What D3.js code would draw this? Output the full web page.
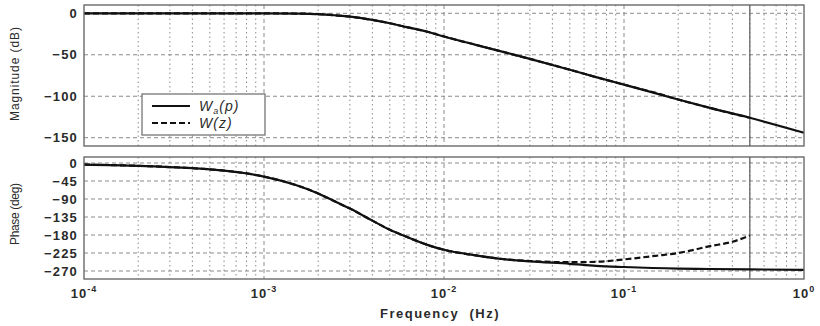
<!DOCTYPE html>
<html>
<head>
<meta charset="utf-8">
<script src="https://cdn.jsdelivr.net/npm/d3@7"></script>
<style>
  body { margin: 0; background: #fff; }
  text { font-family: "Liberation Sans", Arial, sans-serif; }
</style>
</head>
<body>
<div id="chart"></div>
<script>
// values
const freqA = [1e-4, 2e-4, 4e-4, 6e-4, 8e-4, 1e-3, 1.5e-3, 2e-3, 2.5e-3, 3e-3, 4e-3, 5e-3, 6e-3, 8e-3,
  1e-2, 1.5e-2, 2e-2, 3e-2, 5e-2, 7e-2, 1e-1, 2e-1, 3e-1, 5e-1, 1];
const magA = [0, 0, 0, 0, 0, 0, -0.3, -1, -2.5, -4, -8, -12, -16, -22,
  -28, -38, -45, -55, -68, -77, -86, -104, -114, -126, -144];
const phaseA = [-4, -7, -13, -19, -26, -34, -55, -76, -97, -114, -144, -167, -182, -204,
  -217, -231, -239, -246, -252, -257, -260, -264, -265, -266, -267];

// discrete model W(z), only up to the Nyquist frequency
const freqZ = [1e-4, 2e-4, 4e-4, 6e-4, 8e-4, 1e-3, 1.5e-3, 2e-3, 2.5e-3, 3e-3, 4e-3, 5e-3, 6e-3, 8e-3,
  1e-2, 1.5e-2, 2e-2, 3e-2, 5e-2, 7e-2, 1e-1, 1.5e-1, 2e-1, 3e-1, 4e-1, 5e-1];
const magZ = [0, 0, 0, 0, 0, 0, -0.3, -1, -2.5, -4, -8, -12, -16, -22,
  -28, -38, -45, -55, -68, -77, -86, -96, -104, -114, -121, -126];
const phaseZ = [-4, -7, -13, -19, -26, -34, -55, -76, -97, -114, -144, -167, -182, -204,
  -217, -231, -239, -245, -248, -247, -241, -232, -225, -208, -197, -181];

const nyquist = 0.5;
const decades = [1e-4, 1e-3, 1e-2, 1e-1, 1];
const decadeExp = ["-4", "-3", "-2", "-1", "0"];
const magTicks = [0, -50, -100, -150];
const phaseTicks = [0, -45, -90, -135, -180, -225, -270];
const legendLabels = [["W", "a", "(p)"], ["W", "", "(z)"]];

const W = 820, H = 326;
const left = 84, right = 804;

const svg = d3.select('#chart').append('svg')
  .attr('width', W)
  .attr('height', H);

const x = d3.scaleLog().domain([1e-4, 1]).range([left, right]);
const yMag = d3.scaleLinear().domain([-160, 10]).range([146, 5]);
const yPh = d3.scaleLinear().domain([-290, 15]).range([279, 157]);

// minor frequency lines 2..9 in every decade
const minorF = [];
decades.slice(0, 4).forEach(d => {
  for (let k = 2; k <= 9; k++) minorF.push(d * k);
});

const gridColor = "#8a8a8a";
const textColor = "#2a2a2a";

function drawPanel(y, ticks) {
  const top = y.range()[1], bottom = y.range()[0];
  const g = svg.append("g");

  // grid
  g.selectAll(".minor").data(minorF).enter().append("line")
    .attr("x1", d => x(d)).attr("x2", d => x(d))
    .attr("y1", top).attr("y2", bottom)
    .attr("stroke", gridColor).attr("stroke-width", 1)
    .attr("stroke-dasharray", "1.5,3");
  g.selectAll(".major").data(decades.slice(1, 4)).enter().append("line")
    .attr("x1", d => x(d)).attr("x2", d => x(d))
    .attr("y1", top).attr("y2", bottom)
    .attr("stroke", gridColor).attr("stroke-width", 1)
    .attr("stroke-dasharray", "4,3");
  g.selectAll(".hgrid").data(ticks).enter().append("line")
    .attr("x1", left).attr("x2", right)
    .attr("y1", d => y(d)).attr("y2", d => y(d))
    .attr("stroke", gridColor).attr("stroke-width", 1)
    .attr("stroke-dasharray", "4,3");

  // y axis labels
  const ax = g.append("g")
    .attr("transform", "translate(" + left + ",0)")
    .call(d3.axisLeft(y).tickValues(ticks).tickSize(0).tickPadding(6).tickFormat(d3.format("d")));
  ax.select(".domain").remove();
  ax.selectAll("text")
    .attr("font-size", 13)
    .attr("font-weight", "bold")
    .attr("letter-spacing", 1.2)
    .attr("fill", textColor);

  // nyquist line
  g.append("line")
    .attr("x1", x(nyquist)).attr("x2", x(nyquist))
    .attr("y1", top).attr("y2", bottom)
    .attr("stroke", "#666").attr("stroke-width", 1.3);

  return g;
}

const gMag = drawPanel(yMag, magTicks);
const gPh = drawPanel(yPh, phaseTicks);

// curves
const lineOf = (fs, vs, y) => d3.line()
  .x((d, i) => x(fs[i]))
  .y(d => y(d))
  .curve(d3.curveMonotoneX)(vs);

gMag.append("path").attr("d", lineOf(freqZ, magZ, yMag))
  .attr("fill", "none").attr("stroke", "#111").attr("stroke-width", 2.2)
  .attr("stroke-dasharray", "6,3");
gMag.append("path").attr("d", lineOf(freqA, magA, yMag))
  .attr("fill", "none").attr("stroke", "#111").attr("stroke-width", 2.2);

gPh.append("path").attr("d", lineOf(freqZ, phaseZ, yPh))
  .attr("fill", "none").attr("stroke", "#111").attr("stroke-width", 2.2)
  .attr("stroke-dasharray", "6,3");
gPh.append("path").attr("d", lineOf(freqA, phaseA, yPh))
  .attr("fill", "none").attr("stroke", "#111").attr("stroke-width", 2.2);

// axes boxes
[yMag, yPh].forEach(y => {
  svg.append("rect")
    .attr("x", left).attr("y", y.range()[1])
    .attr("width", right - left).attr("height", y.range()[0] - y.range()[1])
    .attr("fill", "none").attr("stroke", "#6a6a6a").attr("stroke-width", 1.4);
});

// x tick labels with superscript exponents
const xl = svg.append("g").selectAll("text").data(decades).enter().append("text")
  .attr("x", d => x(d))
  .attr("y", 298)
  .attr("text-anchor", "middle")
  .attr("font-size", 13)
  .attr("font-weight", "bold")
  .attr("letter-spacing", 1)
  .attr("fill", textColor);
xl.append("tspan").text("10");
xl.append("tspan").attr("dy", -6).attr("font-size", 9).text((d, i) => decadeExp[i]);

svg.append("text")
  .attr("x", 440).attr("y", 318)
  .attr("text-anchor", "middle")
  .attr("font-size", 13).attr("font-weight", "bold").attr("fill", textColor)
  .attr("letter-spacing", 1.5)
  .attr("xml:space", "preserve")
  .text("Frequency  (Hz)");

svg.append("text")
  .attr("transform", "translate(19,74) rotate(-90)")
  .attr("text-anchor", "middle")
  .attr("font-size", 12).attr("fill", textColor)
  .attr("textLength", 94)
  .text("Magnitude (dB)");
svg.append("text")
  .attr("transform", "translate(19,214) rotate(-90)")
  .attr("text-anchor", "middle")
  .attr("font-size", 12).attr("fill", textColor)
  .attr("textLength", 62)
  .text("Phase (deg)");

// legend
const lg = svg.append("g");
lg.append("rect")
  .attr("x", 142).attr("y", 94).attr("width", 123).attr("height", 41)
  .attr("fill", "#fff").attr("stroke", "#6a6a6a").attr("stroke-width", 1.2);
const rows = lg.selectAll(".row").data(legendLabels).enter().append("g")
  .attr("transform", (d, i) => "translate(0," + (106 + i * 17) + ")");
rows.append("line")
  .attr("x1", 152).attr("x2", 190).attr("y1", 0).attr("y2", 0)
  .attr("stroke", "#111").attr("stroke-width", 2)
  .attr("stroke-dasharray", (d, i) => i === 1 ? "6,3" : null);
const lt = rows.append("text")
  .attr("x", 199).attr("y", 5)
  .attr("font-size", 14).attr("font-style", "italic")
  .attr("letter-spacing", 1)
  .attr("fill", textColor);
lt.append("tspan").text(d => d[0]);
lt.append("tspan").attr("dy", 3).attr("font-size", 9).text(d => d[1]);
lt.append("tspan").attr("dy", d => d[1] ? -3 : 0).text(d => d[2]);
</script>
</body>
</html>
